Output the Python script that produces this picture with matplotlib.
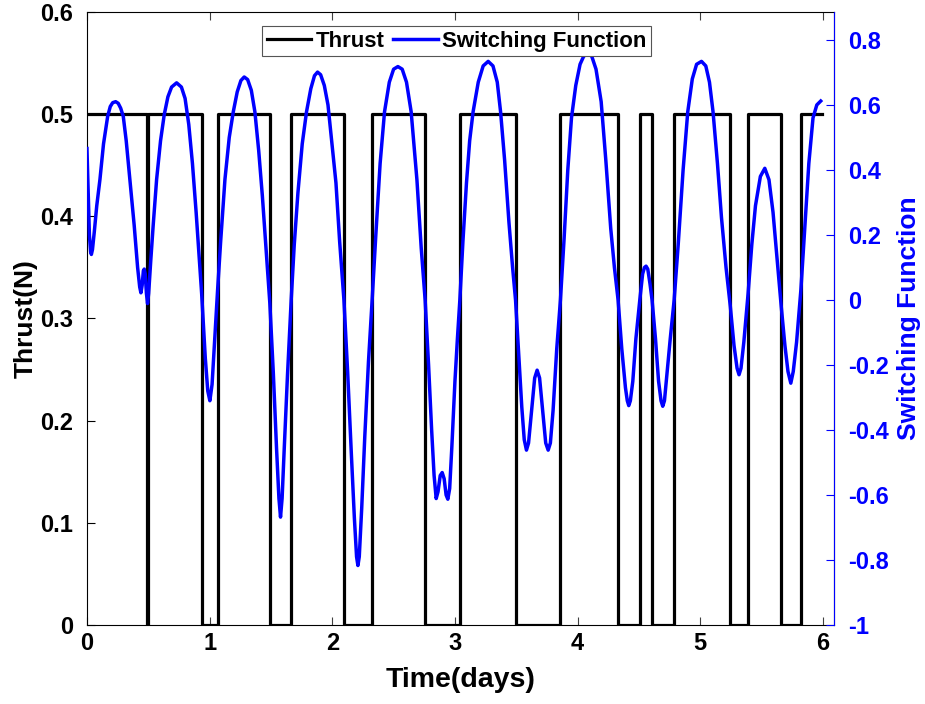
import numpy as np
import matplotlib
matplotlib.use("Agg")
import matplotlib.pyplot as plt

# thrust switching times (days) and levels (N)
thrust_t = [0.0, 0.486, 0.500, 0.935, 1.065, 1.491, 1.665, 2.095, 2.325, 2.757,
            3.040, 3.494, 3.860, 4.330, 4.507, 4.607, 4.787, 5.240, 5.390, 5.660,
            5.820, 5.990]
thrust_v = [0.5, 0.0, 0.5, 0.0, 0.5, 0.0, 0.5, 0.0, 0.5, 0.0,
            0.5, 0.0, 0.5, 0.0, 0.5, 0.0, 0.5, 0.0, 0.5, 0.0,
            0.5, 0.5]

# switching function samples (days, value)
sf_t = [0.000, 0.010, 0.020, 0.030, 0.036, 0.045, 0.060, 0.080, 0.106, 0.135,
        0.169, 0.190, 0.210, 0.234, 0.255, 0.275, 0.296, 0.320, 0.350, 0.385,
        0.413, 0.430, 0.440, 0.450, 0.460, 0.467, 0.475, 0.485, 0.494, 0.503,
        0.520, 0.540, 0.568, 0.600, 0.630, 0.660, 0.690, 0.731, 0.770, 0.800,
        0.830, 0.860, 0.890, 0.921, 0.935, 0.950, 0.965, 0.985, 1.002, 1.020,
        1.040, 1.065, 1.090, 1.125, 1.160, 1.193, 1.225, 1.255, 1.282, 1.310,
        1.340, 1.369, 1.400, 1.430, 1.464, 1.491, 1.519, 1.546, 1.565, 1.578,
        1.591, 1.608, 1.635, 1.665, 1.690, 1.720, 1.755, 1.790, 1.825, 1.855,
        1.880, 1.905, 1.935, 1.965, 2.000, 2.030, 2.060, 2.095, 2.125, 2.155,
        2.180, 2.198, 2.209, 2.220, 2.240, 2.265, 2.295, 2.325, 2.355, 2.390,
        2.426, 2.465, 2.500, 2.535, 2.570, 2.605, 2.643, 2.690, 2.725, 2.757,
        2.785, 2.810, 2.830, 2.847, 2.862, 2.880, 2.896, 2.912, 2.928, 2.942,
        2.957, 2.975, 3.000, 3.020, 3.040, 3.065, 3.094, 3.120, 3.148, 3.190,
        3.230, 3.271, 3.310, 3.345, 3.372, 3.405, 3.440, 3.470, 3.494, 3.520,
        3.545, 3.565, 3.583, 3.600, 3.625, 3.650, 3.670, 3.690, 3.715, 3.740,
        3.760, 3.778, 3.800, 3.830, 3.860, 3.890, 3.920, 3.950, 3.985, 4.020,
        4.050, 4.083, 4.115, 4.150, 4.192, 4.230, 4.270, 4.300, 4.330, 4.360,
        4.390, 4.405, 4.417, 4.430, 4.450, 4.475, 4.507, 4.530, 4.545, 4.558,
        4.572, 4.590, 4.607, 4.635, 4.660, 4.680, 4.694, 4.708, 4.725, 4.755,
        4.787, 4.820, 4.860, 4.898, 4.935, 4.970, 5.010, 5.045, 5.075, 5.104,
        5.140, 5.173, 5.210, 5.245, 5.275, 5.300, 5.316, 5.332, 5.355, 5.390,
        5.420, 5.450, 5.490, 5.526, 5.560, 5.593, 5.630, 5.660, 5.690, 5.715,
        5.738, 5.758, 5.785, 5.820, 5.850, 5.885, 5.919, 5.950, 5.982]
sf_v = [0.466, 0.330, 0.200, 0.148, 0.140, 0.155, 0.210, 0.290, 0.371, 0.480,
        0.565, 0.595, 0.607, 0.610, 0.605, 0.590, 0.565, 0.490, 0.371, 0.230,
        0.100, 0.040, 0.022, 0.045, 0.090, 0.095, 0.080, 0.020, -0.011, 0.020,
        0.120, 0.230, 0.371, 0.490, 0.570, 0.625, 0.655, 0.668, 0.655, 0.620,
        0.540, 0.420, 0.270, 0.100, 0.020, -0.080, -0.180, -0.280, -0.310, -0.260,
        -0.130, 0.030, 0.180, 0.371, 0.500, 0.579, 0.640, 0.675, 0.686, 0.678,
        0.645, 0.579, 0.460, 0.320, 0.134, -0.010, -0.222, -0.460, -0.610, -0.668,
        -0.610, -0.460, -0.230, 0.000, 0.170, 0.330, 0.480, 0.579, 0.650, 0.690,
        0.701, 0.693, 0.660, 0.600, 0.470, 0.360, 0.180, 0.000, -0.220, -0.470,
        -0.670, -0.790, -0.817, -0.790, -0.640, -0.420, -0.190, 0.000, 0.200, 0.420,
        0.579, 0.670, 0.710, 0.718, 0.710, 0.670, 0.579, 0.370, 0.160, 0.000,
        -0.200, -0.400, -0.540, -0.611, -0.590, -0.540, -0.531, -0.550, -0.600, -0.613,
        -0.580, -0.450, -0.250, -0.120, 0.000, 0.180, 0.360, 0.490, 0.579, 0.670,
        0.720, 0.734, 0.720, 0.670, 0.579, 0.430, 0.240, 0.100, 0.000, -0.170,
        -0.330, -0.430, -0.462, -0.440, -0.340, -0.240, -0.216, -0.240, -0.340, -0.440,
        -0.462, -0.440, -0.340, -0.150, 0.000, 0.190, 0.400, 0.560, 0.660, 0.725,
        0.750, 0.757, 0.750, 0.710, 0.610, 0.430, 0.220, 0.100, 0.000, -0.150,
        -0.270, -0.310, -0.325, -0.310, -0.250, -0.120, 0.000, 0.080, 0.100, 0.104,
        0.095, 0.050, 0.000, -0.120, -0.250, -0.310, -0.327, -0.310, -0.240, -0.120,
        0.000, 0.170, 0.400, 0.579, 0.680, 0.725, 0.734, 0.720, 0.670, 0.579,
        0.420, 0.253, 0.100, -0.020, -0.140, -0.210, -0.230, -0.210, -0.130, 0.020,
        0.170, 0.290, 0.380, 0.405, 0.370, 0.270, 0.110, -0.020, -0.140, -0.220,
        -0.256, -0.220, -0.130, 0.030, 0.210, 0.420, 0.560, 0.600, 0.612]

plt.rcParams["font.family"] = ["Liberation Sans", "DejaVu Sans"]
plt.rcParams["font.weight"] = "bold"

fig = plt.figure(figsize=(9.25, 7.04), dpi=100)
ax = fig.add_axes([0.094, 0.1122, 0.8076, 0.8708])
ax2 = ax.twinx()

h1, = ax.step(thrust_t, thrust_v, where="post", color="black", lw=2.3, label="Thrust")
h2, = ax2.plot(sf_t, sf_v, color="blue", lw=2.5, label="Switching Function")

ax.set_xlim(0, 6.09)
ax.set_ylim(0, 0.6)
ax2.set_ylim(-1, 0.886)
ax.set_xticks(range(7))
ax.set_yticks([0, 0.1, 0.2, 0.3, 0.4, 0.5, 0.6])
ax.set_yticklabels(["0", "0.1", "0.2", "0.3", "0.4", "0.5", "0.6"])
sf_ticks = [-1, -0.8, -0.6, -0.4, -0.2, 0, 0.2, 0.4, 0.6, 0.8]
ax2.set_yticks(sf_ticks)
ax2.set_yticklabels(["-1", "-0.8", "-0.6", "-0.4", "-0.2", "0", "0.2", "0.4", "0.6", "0.8"])

ax.tick_params(axis="x", direction="in", top=True, length=6, width=0.8,
               labelsize=17, pad=5, color="#404040")
ax.tick_params(axis="y", direction="in", length=6, width=0.8, labelsize=17, pad=10)
ax2.tick_params(axis="y", direction="in", length=6, width=0.8, labelsize=17,
                colors="blue", pad=10)
for s in ["left", "top", "bottom"]:
    ax.spines[s].set_linewidth(0.8)
ax2.spines["right"].set_color("blue")
ax2.spines["right"].set_linewidth(0.8)
ax2.spines["left"].set_visible(False)
ax2.spines["top"].set_visible(False)
ax2.spines["bottom"].set_visible(False)

for lab in ax.get_xticklabels() + ax.get_yticklabels() + ax2.get_yticklabels():
    lab.set_fontweight("bold")

ax.set_xlabel("Time(days)", fontsize=20.5, fontweight="bold", labelpad=9)
ax.set_ylabel("Thrust(N)", fontsize=19, fontweight="bold", labelpad=2)
ax2.set_ylabel("Switching Function", fontsize=19, fontweight="bold", color="blue", labelpad=6)

leg = ax2.legend([h1, h2], ["Thrust", "Switching Function"], ncol=2, loc="upper center",
                 bbox_to_anchor=(0.495, 0.977), frameon=True, fancybox=False,
                 framealpha=1, edgecolor="#555555", handlelength=2.0, handletextpad=0.2,
                 columnspacing=0.4, borderpad=0.2, borderaxespad=0,
                 prop={"weight": "bold", "size": 16})
leg.get_frame().set_linewidth(0.8)

fig.savefig("out.png", dpi=100)
